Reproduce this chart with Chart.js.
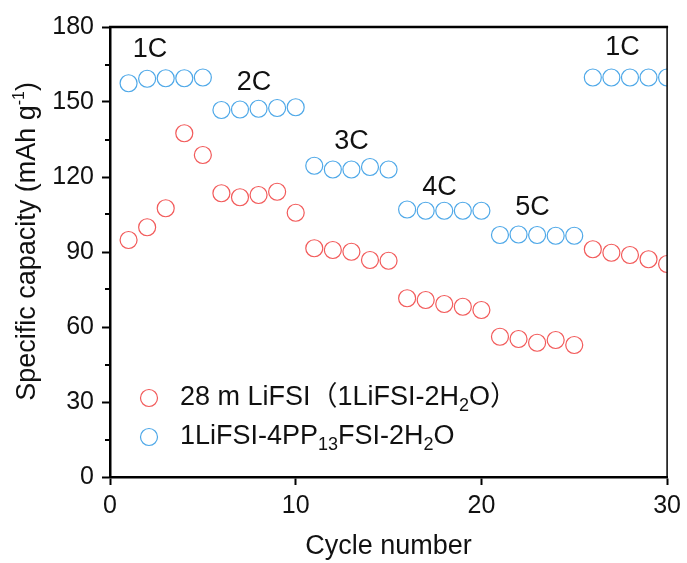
<!DOCTYPE html>
<html>
<head>
<meta charset="utf-8">
<script src="https://cdn.jsdelivr.net/npm/chart.js@4/dist/chart.umd.min.js"></script>
<style>
    html, body { margin: 0; padding: 0; background: #fff; }
</style>
</head>
<body>
<canvas id="rateChart" width="687" height="563"></canvas>
<script>
// cycle numbers and capacities (mAh/g)
const cycles = [1, 2, 3, 4, 5, 6, 7, 8, 9, 10, 11, 12, 13, 14, 15,
                16, 17, 18, 19, 20, 21, 22, 23, 24, 25, 26, 27, 28, 29, 30];
const lifsiCapacity = [94.8, 99.9, 107.5, 137.5, 128.8, 113.5, 111.9, 112.8, 114.1, 105.7,
                       91.5, 90.8, 90.1, 86.8, 86.5, 71.5, 70.8, 69.2, 68.1, 66.8,
                       56.1, 55.2, 53.7, 54.8, 52.8, 91.1, 89.7, 88.8, 87.1, 85.2];
const pp13Capacity = [157.5, 159.3, 159.5, 159.5, 159.8, 146.8, 147.0, 147.3, 147.6, 147.9,
                      124.5, 123.0, 123.0, 124.0, 123.0, 107.0, 106.5, 106.5, 106.5, 106.5,
                      96.8, 97.0, 96.8, 96.5, 96.5, 159.8, 159.8, 159.8, 159.8, 159.8];
const xTicks = [0, 10, 20, 30];
const yTicks = [0, 30, 60, 90, 120, 150, 180];
const yMinorTicks = [15, 45, 75, 105, 135, 165];
const rateLabels = ['1C', '2C', '3C', '4C', '5C', '1C'];
const rateLabelX = [2.15, 7.75, 13.0, 17.75, 22.75, 27.6];
const rateLabelY = [170.8, 157.6, 134.0, 115.6, 107.6, 171.6];
const seriesNames = ['28 m LiFSI（1LiFSI-2H2O）', '1LiFSI-4PP13FSI-2H2O'];

const RED = '#f25a5a';
const BLUE = '#4ea8e8';
const FONT = '"Liberation Sans", Arial, "Noto Sans CJK SC", sans-serif';

// legend text pieces, 'sub' marks subscripts
const legendParts = [
    [['28 m LiFSI', ''], ['（', ''], ['1LiFSI-2H', ''], ['2', 'sub'], ['O', ''], ['）', '']],
    [['1LiFSI-4PP', ''], ['13', 'sub'], ['FSI-2H', ''], ['2', 'sub'], ['O', '']]
];

function drawPieces(ctx, parts, x, y, size) {
    parts.forEach(p => {
        if (p[1] === 'sub') {
            ctx.font = Math.round(size * 0.65) + 'px ' + FONT;
            ctx.fillText(p[0], x, y + size * 0.3);
        } else if (p[1] === 'sup') {
            ctx.font = Math.round(size * 0.6) + 'px ' + FONT;
            ctx.fillText(p[0], x, y - size * 0.42);
        } else {
            ctx.font = size + 'px ' + FONT;
            ctx.fillText(p[0], x, y);
        }
        x += ctx.measureText(p[0]).width;
    });
    return x;
}

function piecesWidth(ctx, parts, size) {
    let w = 0;
    parts.forEach(p => {
        ctx.font = (p[1] ? Math.round(size * 0.62) : size) + 'px ' + FONT;
        w += ctx.measureText(p[0]).width;
    });
    return w;
}

const extras = {
    id: 'extras',
    afterDraw(chart) {
        const ctx = chart.ctx;
        const area = chart.chartArea;
        const xs = chart.scales.x;
        const ys = chart.scales.y;
        ctx.save();

        // top and right frame
        ctx.strokeStyle = '#000';
        ctx.lineWidth = 2.5;
        ctx.beginPath();
        ctx.moveTo(area.left - 1, area.top);
        ctx.lineTo(area.right + 1, area.top);
        ctx.stroke();
        ctx.lineWidth = 1.5;
        ctx.beginPath();
        ctx.moveTo(area.right, area.top);
        ctx.lineTo(area.right, area.bottom);
        ctx.stroke();

        // minor ticks on y
        ctx.lineWidth = 2;
        yMinorTicks.forEach(v => {
            const py = Math.round(ys.getPixelForValue(v));
            ctx.beginPath();
            ctx.moveTo(area.left - 5, py);
            ctx.lineTo(area.left, py);
            ctx.stroke();
        });

        // rate labels
        ctx.fillStyle = '#111';
        ctx.font = '27px ' + FONT;
        ctx.textAlign = 'center';
        ctx.textBaseline = 'middle';
        rateLabels.forEach((t, i) => {
            ctx.fillText(t, xs.getPixelForValue(rateLabelX[i]), ys.getPixelForValue(rateLabelY[i]));
        });

        // legend
        ctx.textAlign = 'left';
        const colors = [RED, BLUE];
        const legendY = [398, 437];
        legendParts.forEach((parts, i) => {
            ctx.strokeStyle = colors[i];
            ctx.lineWidth = 1.2;
            ctx.beginPath();
            ctx.arc(149, legendY[i], 8.5, 0, Math.PI * 2);
            ctx.stroke();
            ctx.fillStyle = '#111';
            drawPieces(ctx, parts, 180, legendY[i], 27);
        });

        // y axis title with superscript
        const titleParts = [['Specific capacity (mAh g', ''], ['-1', 'sup'], [')', '']];
        ctx.textBaseline = 'alphabetic';
        const w = piecesWidth(ctx, titleParts, 27);
        ctx.translate(35, 241);
        ctx.rotate(-Math.PI / 2);
        ctx.fillStyle = '#111';
        drawPieces(ctx, titleParts, -w / 2, 0, 27);
        ctx.restore();
    }
};

const ctx = document.getElementById('rateChart').getContext('2d');
new Chart(ctx, {
    type: 'scatter',
    data: {
        datasets: [{
            label: seriesNames[0],
            data: cycles.map((c, i) => ({ x: c, y: lifsiCapacity[i] })),
            borderColor: RED,
            backgroundColor: 'rgba(0,0,0,0)',
            borderWidth: 1.2,
            pointRadius: 8.5,
            pointHoverRadius: 8.5
        }, {
            label: seriesNames[1],
            data: cycles.map((c, i) => ({ x: c, y: pp13Capacity[i] })),
            borderColor: BLUE,
            backgroundColor: 'rgba(0,0,0,0)',
            borderWidth: 1.2,
            pointRadius: 8.5,
            pointHoverRadius: 8.5
        }]
    },
    options: {
        responsive: false,
        animation: false,
        devicePixelRatio: 1,
        layout: { padding: { top: 27, right: 16, left: 0, bottom: 0 } },
        plugins: {
            legend: { display: false },
            tooltip: { enabled: false }
        },
        scales: {
            x: {
                type: 'linear',
                min: 0,
                max: 30,
                afterBuildTicks: s => { s.ticks = xTicks.map(v => ({ value: v })); },
                afterFit: s => { s.height = 86; },
                ticks: {
                    color: '#111',
                    padding: 6,
                    maxRotation: 0,
                    font: { family: FONT, size: 25 }
                },
                grid: { drawOnChartArea: false, tickLength: 8, tickColor: '#000', tickWidth: 2 },
                border: { color: '#000', width: 2.5 },
                title: {
                    display: true,
                    text: 'Cycle number',
                    color: '#111',
                    font: { family: FONT, size: 27 },
                    padding: { top: 0, bottom: 0 }
                }
            },
            y: {
                min: 0,
                max: 180,
                afterBuildTicks: s => { s.ticks = yTicks.map(v => ({ value: v })); },
                afterFit: s => { s.width = 110; },
                ticks: {
                    color: '#111',
                    padding: 8,
                    font: { family: FONT, size: 25 }
                },
                grid: { drawOnChartArea: false, tickLength: 8, tickColor: '#000', tickWidth: 2 },
                border: { color: '#000', width: 2.5 }
            }
        }
    },
    plugins: [extras]
});
</script>
</body>
</html>
